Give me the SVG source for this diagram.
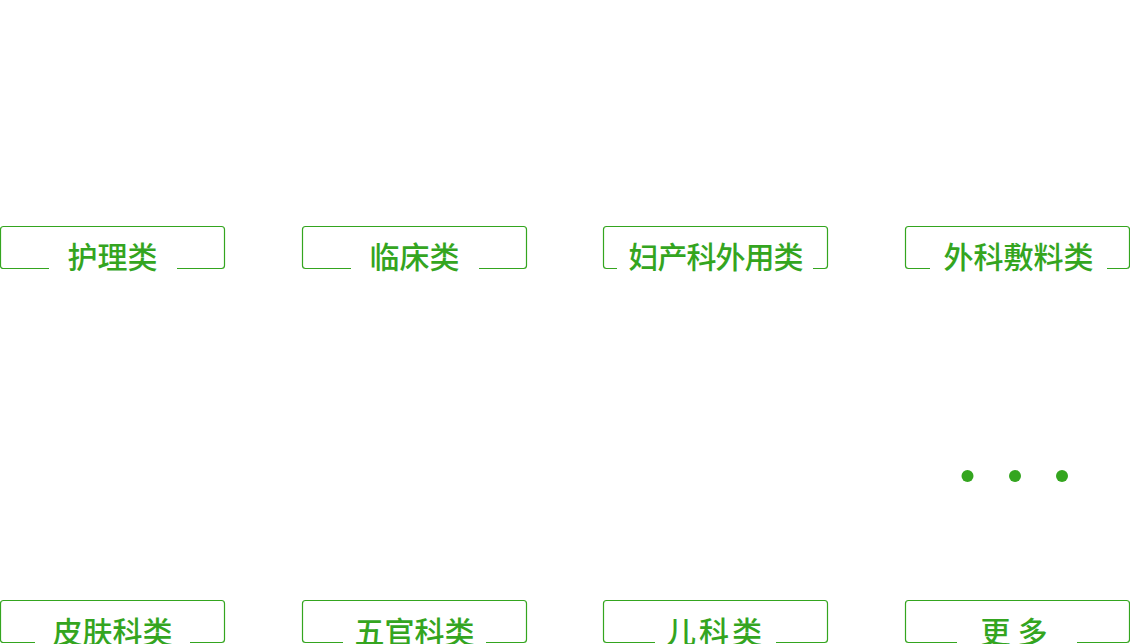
<svg xmlns="http://www.w3.org/2000/svg" width="1130" height="644" viewBox="0 0 1130 644">
<style>
.frame{fill:none;stroke:#34a51f;stroke-width:1.2;stroke-linejoin:round;stroke-linecap:butt}
.lbl{font-family:"Noto Sans CJK SC","Noto Sans",sans-serif;font-size:30px;font-weight:500;fill:#34a51f;text-anchor:middle}
.dot{fill:#34a51f}
</style>
<rect width="1130" height="644" fill="#ffffff"/>
<g id="connectors"></g>
<g id="node-huli">
<path class="frame" d="M49,268.5 H3.5 Q0.5,268.5 0.5,265.5 V229.5 Q0.5,226.5 3.5,226.5 H221.5 Q224.5,226.5 224.5,229.5 V265.5 Q224.5,268.5 221.5,268.5 H177"/>
<text class="lbl" x="112.5" y="268">护理类</text>
</g>
<g id="node-linchuang">
<path class="frame" d="M351,268.5 H305.5 Q302.5,268.5 302.5,265.5 V229.5 Q302.5,226.5 305.5,226.5 H523.5 Q526.5,226.5 526.5,229.5 V265.5 Q526.5,268.5 523.5,268.5 H479"/>
<text class="lbl" x="414.5" y="268">临床类</text>
</g>
<g id="node-fuchan">
<path class="frame" d="M617,268.5 H606.5 Q603.5,268.5 603.5,265.5 V229.5 Q603.5,226.5 606.5,226.5 H824.5 Q827.5,226.5 827.5,229.5 V265.5 Q827.5,268.5 824.5,268.5 H813"/>
<text class="lbl" x="715.5" y="268" letter-spacing="-1">妇产科外用类</text>
</g>
<g id="node-waike">
<path class="frame" d="M930,268.5 H908.5 Q905.5,268.5 905.5,265.5 V229.5 Q905.5,226.5 908.5,226.5 H1126.5 Q1129.5,226.5 1129.5,229.5 V265.5 Q1129.5,268.5 1126.5,268.5 H1107"/>
<text class="lbl" x="1018.5" y="268">外科敷料类</text>
</g>
<g id="node-pifu">
<path class="frame" d="M35,642.5 H3.5 Q0.5,642.5 0.5,639.5 V603.5 Q0.5,600.5 3.5,600.5 H221.5 Q224.5,600.5 224.5,603.5 V639.5 Q224.5,642.5 221.5,642.5 H190"/>
<text class="lbl" x="112.5" y="643">皮肤科类</text>
</g>
<g id="node-wuguan">
<path class="frame" d="M343,642.5 H305.5 Q302.5,642.5 302.5,639.5 V603.5 Q302.5,600.5 305.5,600.5 H523.5 Q526.5,600.5 526.5,603.5 V639.5 Q526.5,642.5 523.5,642.5 H486"/>
<text class="lbl" x="414.5" y="643">五官科类</text>
</g>
<g id="node-erke">
<path class="frame" d="M655,642.5 H606.5 Q603.5,642.5 603.5,639.5 V603.5 Q603.5,600.5 606.5,600.5 H824.5 Q827.5,600.5 827.5,603.5 V639.5 Q827.5,642.5 824.5,642.5 H776"/>
<text class="lbl" x="715.5" y="643" letter-spacing="3">儿科类</text>
</g>
<g id="node-gengduo">
<circle class="dot" cx="967.5" cy="476" r="6"/>
<circle class="dot" cx="1015" cy="476" r="6"/>
<circle class="dot" cx="1062" cy="476" r="6"/>
<path class="frame" d="M957,642.5 H908.5 Q905.5,642.5 905.5,639.5 V603.5 Q905.5,600.5 908.5,600.5 H1126.5 Q1129.5,600.5 1129.5,603.5 V639.5 Q1129.5,642.5 1126.5,642.5 H1077"/>
<text class="lbl" x="1017.5" y="643" letter-spacing="7">更多</text>
</g>
</svg>
